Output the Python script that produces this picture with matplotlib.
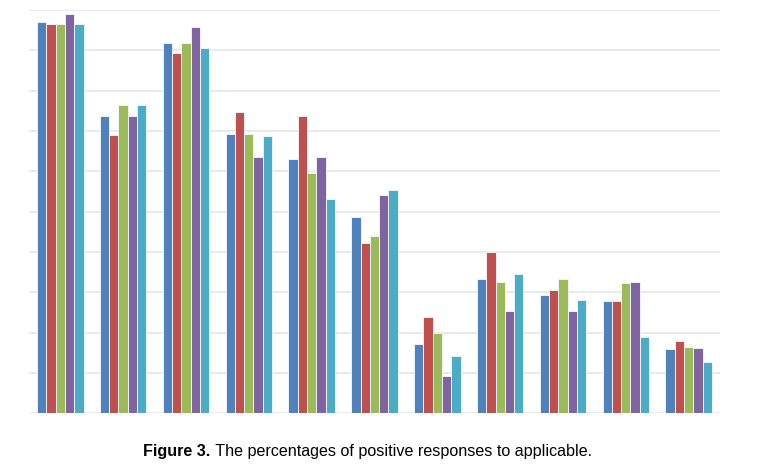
import numpy as np
import matplotlib.pyplot as plt

# =========================
# data (0-100 scale)
# =========================
groups = list(range(1, 12))
series_a = [97.1, 73.8, 91.7, 69.3, 63.1, 48.6, 17.2, 33.4, 29.4, 27.9, 15.9]
series_b = [96.5, 69.0, 89.4, 74.6, 73.7, 42.3, 23.8, 39.9, 30.6, 27.9, 17.9]
series_c = [96.6, 76.5, 91.7, 69.3, 59.7, 44.0, 19.8, 32.6, 33.4, 32.2, 16.4]
series_d = [98.9, 73.8, 95.8, 63.6, 63.6, 54.1, 9.2, 25.4, 25.4, 32.6, 16.1]
series_e = [96.5, 76.5, 90.6, 68.8, 53.1, 55.4, 14.3, 34.6, 28.1, 18.8, 12.7]

all_series = [series_a, series_b, series_c, series_d, series_e]
colors = ["#4F81BD", "#C0504D", "#9BBB59", "#8064A2", "#4BACC6"]

# =========================
# figure
# =========================
fig = plt.figure(figsize=(7.81, 4.74), dpi=100)
ax = fig.add_axes([0.037, 0.128, 0.885, 0.851])

x = np.arange(len(groups))
slot = 0.148
for i, (vals, c) in enumerate(zip(all_series, colors)):
    ax.bar(x + (i - 2) * slot, vals, width=slot, color=c,
           edgecolor="#eef3f8", linewidth=0.7, zorder=3)

ax.set_xlim(-0.5, len(groups) - 0.5)
ax.set_ylim(0, 100)
ax.set_yticks(np.arange(0, 101, 10))
ax.yaxis.grid(True, color="#e6e6e6", linewidth=1.2, zorder=0)
ax.tick_params(left=False, bottom=False, labelleft=False, labelbottom=False)
for s in ax.spines.values():
    s.set_visible(False)

# caption: bold label + regular text
cap_y = 0.038
t1 = fig.text(0, cap_y, "Figure 3.", fontsize=11.6, fontweight="bold",
              family="Liberation Sans", va="baseline")
t2 = fig.text(0, cap_y, " The percentages of positive responses to applicable.",
              fontsize=11.6, family="Liberation Sans", va="baseline")
fig.canvas.draw()
r = fig.canvas.get_renderer()
w1 = t1.get_window_extent(r).width / fig.bbox.width
w2 = t2.get_window_extent(r).width / fig.bbox.width
x0 = 0.5 * (143 + 592) / 781 - (w1 + w2) / 2
t1.set_x(x0)
t2.set_x(x0 + w1)

fig.savefig("out.png", dpi=100)
